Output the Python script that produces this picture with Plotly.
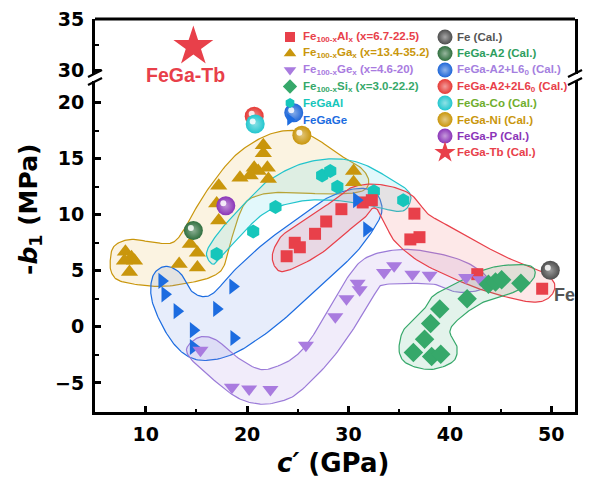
import numpy as np
import plotly.graph_objects as go

# ---------------- data ----------------
al_c = [23.9, 24.7, 25.2, 26.7, 27.8, 29.3, 31.4, 32.3, 36.5, 36.1, 37.0, 42.7, 49.1]
al_b = [6.3, 7.5, 7.1, 8.3, 9.4, 10.5, 11.1, 11.3, 10.1, 7.8, 8.0, 4.7, 3.4]
ga_c = [8.0, 8.6, 7.9, 8.9, 8.4, 13.3, 15.1, 14.4, 15.1, 17.2, 17.0, 17.2, 19.3, 20.3,
        20.7, 21.1, 22.0, 22.1, 21.6, 21.6, 30.5, 30.5]
ga_b = [6.7, 6.2, 5.9, 5.9, 4.9, 5.6, 5.3, 7.4, 6.6, 9.5, 11.0, 12.6, 13.3, 13.5,
        14.2, 13.9, 14.2, 13.2, 16.2, 15.5, 13.9, 12.9]
ge_c = [15.4, 18.5, 20.2, 22.3, 25.8, 28.7, 29.8, 30.9, 31.1, 33.5, 34.5, 36.3, 38.0, 41.6, 43.0]
ge_b = [-2.1, -5.4, -5.55, -5.6, -1.65, 0.9, 2.5, 3.9, 3.3, 4.85, 5.45, 4.7, 4.6, 4.4, 4.2]
si_c = [36.4, 37.5, 38.1, 39.0, 38.2, 39.1, 41.7, 43.8, 44.5, 45.1, 47.0]
si_b = [-2.3, -1.1, 0.3, 1.6, -2.65, -2.45, 2.5, 3.8, 4.0, 4.2, 3.9]
fegaal_c = [17.0, 20.6, 22.8, 27.4, 28.2, 28.9, 32.5, 35.4]
fegaal_b = [6.5, 8.5, 10.7, 13.5, 13.9, 12.5, 12.1, 11.3]
fegage_c = [11.6, 11.9, 13.1, 14.7, 14.7, 17.0, 18.6, 18.7, 30.8, 31.8]
fegage_b = [4.1, 2.9, 1.4, -0.3, -1.8, 1.6, 3.6, -1.0, 11.3, 8.7]

cal_labels = ["Fe (Cal.)", "FeGa-A2 (Cal.)", "FeGa-A2+L6<sub>0</sub> (Cal.)",
              "FeGa-A2+2L6<sub>0</sub> (Cal.)", "FeGa-Co (Cal.)", "FeGa-Ni (Cal.)", "FeGa-P (Cal.)"]
cal_c = [49.9, 14.7, 24.6, 20.7, 20.8, 25.4, 17.9]
cal_b = [5.05, 8.6, 19.1, 18.8, 18.1, 17.1, 10.8]
tb_c = [14.7]
tb_b = [32.3]

exp_labels = ["Fe<sub>100-x</sub>Al<sub>x</sub> (x=6.7-22.5)",
              "Fe<sub>100-x</sub>Ga<sub>x</sub> (x=13.4-35.2)",
              "Fe<sub>100-x</sub>Ge<sub>x</sub> (x=4.6-20)",
              "Fe<sub>100-x</sub>Si<sub>x</sub> (x=3.0-22.2)",
              "FeGaAl", "FeGaGe"]

# region outlines (hand-drawn guides around the groups)
ga_reg_c = [6.5, 6.9, 8.5, 11.0, 12.6, 13.6, 14.4, 16.0, 18.3, 20.3, 22.6, 24.8, 26.8, 29.0,
            31.2, 32.0, 31.3, 28.5, 23.3, 21.0, 19.7, 18.7, 17.8, 16.8, 14.7, 11.4, 7.8, 6.7]
ga_reg_b = [5.9, 7.2, 7.8, 7.5, 7.5, 8.4, 9.7, 12.1, 14.8, 16.3, 17.3, 17.5, 16.8, 15.4,
            14.2, 13.0, 12.1, 11.85, 12.0, 11.7, 10.9, 8.6, 5.6, 4.6, 4.0, 3.6, 4.0, 4.7]
cy_reg_c = [16.0, 17.0, 18.7, 20.5, 22.0, 25.2, 28.5, 31.2, 33.8, 35.8, 36.1, 35.1, 31.8,
            28.5, 25.2, 22.0, 19.7, 17.4, 16.6]
cy_reg_b = [6.6, 8.2, 10.0, 11.7, 13.0, 14.5, 15.0, 14.6, 13.4, 12.2, 11.2, 10.3, 10.9,
            11.3, 11.2, 10.3, 8.5, 6.2, 5.6]
al_reg_c = [22.5, 23.3, 24.5, 26.6, 28.9, 30.5, 33.1, 36.0, 37.8, 39.1, 42.4, 45.6, 48.9,
            50.3, 49.9, 48.3, 45.0, 41.7, 37.4, 34.8, 33.8, 33.0, 32.4, 31.9, 30.8, 27.2, 23.9, 22.8]
al_reg_b = [6.5, 8.0, 8.8, 10.1, 11.5, 12.5, 12.7, 11.9, 10.1, 9.4, 7.7, 6.2, 5.0,
            3.9, 2.7, 2.2, 2.8, 3.8, 5.6, 7.4, 8.8, 10.3, 10.6, 10.0, 9.2, 6.5, 5.0, 5.3]
gg_reg_c = [10.5, 10.8, 12.0, 13.4, 14.4, 15.6, 16.8, 18.7, 22.0, 25.3, 27.9, 30.5, 32.5,
            33.3, 32.8, 30.9, 28.5, 25.3, 22.0, 18.7, 16.0, 14.1, 12.5, 11.1]
gg_reg_b = [3.0, 4.7, 5.4, 4.8, 3.3, 2.7, 3.1, 5.0, 7.7, 9.8, 11.5, 12.3, 12.1,
            10.7, 9.2, 6.8, 4.7, 2.0, -0.5, -2.4, -3.0, -2.6, -1.2, 1.1]
ge_reg_c = [14.1, 15.4, 17.0, 19.0, 21.3, 23.3, 24.8, 26.2, 27.9, 29.9, 31.8, 35.1, 38.5,
            41.5, 43.6, 43.3, 40.7, 38.4, 33.8, 32.8, 31.2, 28.5, 25.3, 23.5, 21.3, 19.0, 16.4, 14.4]
ge_reg_b = [-1.8, -0.9, -1.2, -2.7, -3.8, -3.4, -2.6, -1.2, 1.4, 4.4, 6.2, 6.9, 6.6,
            5.8, 4.5, 3.4, 3.1, 3.8, 3.8, 3.2, 0.8, -2.7, -5.7, -6.6, -6.9, -6.3, -4.5, -2.8]
si_reg_c = [35.0, 35.3, 36.1, 37.4, 38.4, 40.7, 42.5, 45.0, 47.9, 48.3, 46.6, 43.3, 41.0,
            40.0, 40.7, 40.3, 38.1, 35.8]
si_reg_b = [-2.2, -0.5, 0.3, 1.5, 2.8, 3.9, 4.8, 5.45, 5.45, 4.4, 3.2, 2.2, 0.8,
            -0.4, -1.8, -3.1, -3.8, -3.3]

# ---------------- styles ----------------
RED = "#E8404A"; GOLD = "#C9960C"; PURP = "#A97BDF"; GREEN = "#36A86A"
CYAN = "#16C6BB"; BLUE = "#1C6CE0"
ball_cols = ["#4D4D4D", "#2F6E3E", "#1F67D8", "#E53935", "#22C6CE", "#C9960C", "#8B35B8"]
cal_text_cols = ["#555555", "#2E9E5E", "#A57FE0", RED, "#6FAE2E", GOLD, "#8B35B8"]

# layout in pixels (target picture coordinates); the page adds an 8px body margin
W, H = 595, 487
OFF = 8
PL, PR, PT, PB = 95, 575, 19, 412
LO_TOP, HI_BOT = 81, 74
pw, ph = PR - PL, PB - PT
SX = 10.14  # px per GPa
SY = 11.2   # px per MPa (lower segment)
x_rng = [5, 5 + pw / SX]
y_lo = [-7.6, 20 + (102.7 - LO_TOP) / SY]
y_hi = [30 - (HI_BOT - 70) / 10.3, 35.001]
d_lo = (PB - LO_TOP) / ph
d_hi = (PB - HI_BOT) / ph


def smooth_closed(xs, ys, n=14):
    P = np.column_stack([np.asarray(xs) * SX, np.asarray(ys) * SY])
    N = len(P)
    out = []
    for i in range(N):
        p0, p1, p2, p3 = P[(i - 1) % N], P[i], P[(i + 1) % N], P[(i + 2) % N]
        for t in np.linspace(0, 1, n, endpoint=False):
            t2, t3 = t * t, t * t * t
            out.append(0.5 * (2 * p1 + (-p0 + p2) * t + (2 * p0 - 5 * p1 + 4 * p2 - p3) * t2
                              + (-p0 + 3 * p1 - 3 * p2 + p3) * t3))
    out.append(out[0])
    out = np.array(out)
    return out[:, 0] / SX, out[:, 1] / SY


fig = go.Figure()

regions = [
    (ga_reg_c, ga_reg_b, GOLD, "rgba(236,200,120,0.22)"),
    (gg_reg_c, gg_reg_b, BLUE, "rgba(110,150,230,0.17)"),
    (ge_reg_c, ge_reg_b, "#9B7BD8", "rgba(170,135,225,0.16)"),
    (cy_reg_c, cy_reg_b, "#22C4CC", "rgba(110,220,235,0.20)"),
    (al_reg_c, al_reg_b, RED, "rgba(240,100,100,0.15)"),
    (si_reg_c, si_reg_b, GREEN, "rgba(60,170,110,0.14)"),
]
for rc, rb, lc, fc in regions:
    sx, sy = smooth_closed(rc, rb)
    fig.add_trace(go.Scatter(x=sx, y=sy, mode="lines", fill="toself", fillcolor=fc,
                             line=dict(color=lc, width=1.2), hoverinfo="skip", showlegend=False))

series = [
    (ga_c, ga_b, "triangle-up", GOLD, 15),
    (fegaal_c, fegaal_b, "hexagon", CYAN, 14),
    (al_c, al_b, "square", RED, 12),
    (fegage_c, fegage_b, "triangle-right", BLUE, 14),
    (ge_c, ge_b, "triangle-down", PURP, 14),
    (si_c, si_b, "diamond", GREEN, 15),
]
for xc, yb, sym, col, sz in series:
    fig.add_trace(go.Scatter(x=xc, y=yb, mode="markers", showlegend=False,
                             marker=dict(symbol=sym, color=col, size=sz, line=dict(width=0))))


def lighten(hexc, f):
    h = hexc.lstrip("#")
    r, g, b = int(h[0:2], 16), int(h[2:4], 16), int(h[4:6], 16)
    return "rgb(%d,%d,%d)" % (r + (255 - r) * f, g + (255 - g) * f, b + (255 - b) * f)


for i in range(len(cal_c)):
    fig.add_trace(go.Scatter(x=[cal_c[i]], y=[cal_b[i]], mode="markers", showlegend=False,
                             marker=dict(symbol="circle", size=19, color=ball_cols[i],
                                         gradient=dict(type="radial", color=lighten(ball_cols[i], 0.45)),
                                         line=dict(width=0))))
    fig.add_trace(go.Scatter(x=[cal_c[i] - 2.5 / SX], y=[cal_b[i] + 2.5 / SY], mode="markers",
                             showlegend=False, hoverinfo="skip",
                             marker=dict(symbol="circle", size=6, color="rgba(255,255,255,0.85)",
                                         line=dict(width=0))))

fig.add_trace(go.Scatter(x=tb_c, y=tb_b, yaxis="y2", mode="markers", showlegend=False,
                         marker=dict(symbol="star", size=30, color=RED, line=dict(width=0))))

# ---------------- manual legend (overlay subplot in plot-area fractions) ----------------
def fx(px):
    return (px - PL) / pw


def fy(py):
    return (PB - py) / ph


ROW0, DROW = 37, 16.5
C1M, C1T, C2M, C2T = 290, 301, 445, 455
LFS = 11.5
leg_syms = [("square", RED, 10), ("triangle-up", GOLD, 11), ("triangle-down", PURP, 11),
            ("diamond", GREEN, 11), ("hexagon", CYAN, 10), ("triangle-right", BLUE, 11)]
exp_cols = [RED, GOLD, PURP, GREEN, CYAN, BLUE]
annots = []
LFONT = "Liberation Sans"
for i, (sym, col, sz) in enumerate(leg_syms):
    fig.add_trace(go.Scatter(x=[fx(C1M)], y=[fy(ROW0 + i * DROW)], xaxis="x3", yaxis="y4",
                             mode="markers", showlegend=False, hoverinfo="skip",
                             marker=dict(symbol=sym, color=col, size=sz, line=dict(width=0))))
    annots.append(dict(x=fx(C1T), y=fy(ROW0 + i * DROW), xref="paper", yref="paper",
                       text=exp_labels[i], showarrow=False, xanchor="left", yanchor="middle",
                       font=dict(family=LFONT, size=LFS, color=exp_cols[i], weight="bold")))
for i in range(len(cal_labels)):
    fig.add_trace(go.Scatter(x=[fx(C2M)], y=[fy(ROW0 + i * DROW)], xaxis="x3", yaxis="y4",
                             mode="markers", showlegend=False, hoverinfo="skip",
                             marker=dict(symbol="circle", size=15, color=ball_cols[i],
                                         gradient=dict(type="radial", color=lighten(ball_cols[i], 0.5)),
                                         line=dict(width=0))))
    annots.append(dict(x=fx(C2T), y=fy(ROW0 + i * DROW), xref="paper", yref="paper",
                       text=cal_labels[i], showarrow=False, xanchor="left", yanchor="middle",
                       font=dict(family=LFONT, size=LFS, color=cal_text_cols[i], weight="bold")))
n7 = len(cal_labels)
fig.add_trace(go.Scatter(x=[fx(C2M)], y=[fy(ROW0 + n7 * DROW)], xaxis="x3", yaxis="y4",
                         mode="markers", showlegend=False, hoverinfo="skip",
                         marker=dict(symbol="star", color=RED, size=16, line=dict(width=0))))
annots.append(dict(x=fx(C2T), y=fy(ROW0 + n7 * DROW), xref="paper", yref="paper",
                   text="FeGa-Tb (Cal.)", showarrow=False, xanchor="left", yanchor="middle",
                   font=dict(family=LFONT, size=LFS, color=RED, weight="bold")))

# labels
annots.append(dict(x=tb_c[0] - 0.8, y=fy(75), xref="x", yref="paper", text="FeGa-Tb",
                   showarrow=False, xanchor="center", yanchor="middle",
                   font=dict(family=LFONT, size=19.5, color=RED, weight="bold")))
annots.append(dict(x=cal_c[0] + 0.2, y=cal_b[0] - 2.2, xref="x", yref="y", text="Fe",
                   showarrow=False, xanchor="left", yanchor="middle",
                   font=dict(family=LFONT, size=18, color="#555555", weight="bold")))
# axis titles
TFONT = "DejaVu Sans"
annots.append(dict(x=fx(30), y=fy(210), xref="paper", yref="paper", textangle=-90,
                   text="-<i>b</i><sub>1</sub> (MPa)", showarrow=False, xanchor="center",
                   yanchor="middle", font=dict(family=TFONT, size=25, color="black", weight="bold")))
annots.append(dict(x=fx(333), y=fy(463), xref="paper", yref="paper",
                   text="<i>c\u2032</i> (GPa)", showarrow=False, xanchor="center",
                   yanchor="middle", font=dict(family=TFONT, size=26, color="black", weight="bold")))

# frame pieces: top line and axis-break marks
shapes = [dict(type="line", xref="paper", yref="paper", x0=0, x1=1, y0=1, y1=1,
               line=dict(color="black", width=3))]
bx, by = 7 / pw, 3.5 / ph
for xc in (0, 1):
    for yc in (d_hi + 0.5 / ph, d_lo - 0.5 / ph):
        shapes.append(dict(type="line", xref="paper", yref="paper", x0=xc - bx, x1=xc + bx,
                           y0=yc - by, y1=yc + by, line=dict(color="black", width=2.2)))

tickfont = dict(family=TFONT, size=19, color="black", weight="bold")
common = dict(showgrid=False, zeroline=False, showline=True, linecolor="black", linewidth=3,
              ticks="inside", ticklen=6, tickwidth=2.5, tickcolor="black", tickfont=tickfont,
              fixedrange=True, ticklabeloverflow="allow")

fig.update_layout(
    width=W, height=H,
    margin=dict(l=PL - OFF, r=W - PR + OFF, t=PT - OFF, b=H - PB + OFF, autoexpand=False),
    paper_bgcolor="white", plot_bgcolor="rgba(0,0,0,0)", showlegend=False,
    xaxis=dict(range=x_rng, tickvals=[10, 20, 30, 40, 50], anchor="y", mirror=False,
               ticklabelstandoff=3,
               minor=dict(tickvals=[15, 25, 35, 45], ticks="inside", ticklen=3.5, tickwidth=2,
                          tickcolor="black"), **common),
    yaxis=dict(range=y_lo, domain=[0, d_lo], tickvals=[-5, 0, 5, 10, 15, 20], anchor="x",
               mirror=True, ticklabelstandoff=4,
               minor=dict(tickvals=[-2.5, 2.5, 7.5, 12.5, 17.5], ticks="inside", ticklen=3.5,
                          tickwidth=2, tickcolor="black"), **common),
    yaxis2=dict(range=y_hi, domain=[d_hi, 1], tickvals=[30, 35], anchor="x", mirror=True,
                ticklabelstandoff=4,
                minor=dict(tickvals=[32.5], ticks="inside", ticklen=3.5, tickwidth=2,
                           tickcolor="black"), **common),
    xaxis3=dict(domain=[0, 1], range=[0, 1], anchor="y4", visible=False, fixedrange=True),
    yaxis4=dict(domain=[0, 1], range=[0, 1], anchor="x3", visible=False, fixedrange=True),
    annotations=annots, shapes=shapes,
)

fig.write_html("out.html")
